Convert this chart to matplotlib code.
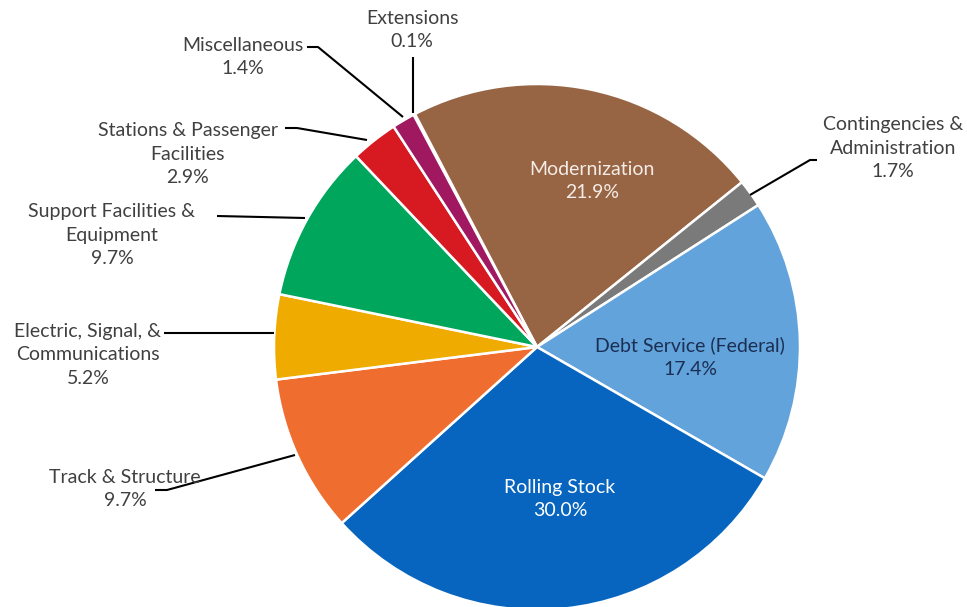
import matplotlib
matplotlib.use("Agg")
import matplotlib.pyplot as plt

categories = ["Extensions", "Modernization", "Contingencies &\nAdministration",
              "Debt Service (Federal)", "Rolling Stock", "Track & Structure",
              "Electric, Signal, &\nCommunications", "Support Facilities &\nEquipment",
              "Stations & Passenger\nFacilities", "Miscellaneous"]
values = [0.1, 21.9, 1.7, 17.4, 30.0, 9.7, 5.2, 9.7, 2.9, 1.4]
colors = ["#c8a0c8", "#976544", "#7a7a7a", "#62a3dc", "#0765c0", "#ef6d2f",
          "#f0ab00", "#00a65c", "#d71a22", "#a01860"]

W, H = 967, 607
fig = plt.figure(figsize=(W / 100, H / 100), dpi=100)
ax = fig.add_axes([0, 0, 1, 1])
ax.set_xlim(0, W)
ax.set_ylim(0, H)
ax.set_aspect("equal")
ax.axis("off")

def Y(y):
    return H - y

cx, cy, r = 537, Y(347), 263
ax.pie(values, colors=colors, startangle=118, counterclock=False,
       center=(cx, cy), radius=r, frame=True,
       wedgeprops=dict(edgecolor="white", linewidth=1.8))
ax.set_xlim(0, W)
ax.set_ylim(0, H)
ax.axis("off")

font = "Lato"
fs = 14
ls = 1.48
tc = "#404040"

def lab(i):
    return f"{categories[i]}\n{values[i]:.1f}%"

# inside labels
ax.text(592, Y(181), lab(1), ha="center", va="center", fontsize=fs, family=font,
        color="#f4ece6", linespacing=ls)
ax.text(690, Y(357), lab(3), ha="center", va="center", fontsize=fs, family=font,
        color="#1b2f52", linespacing=ls)
ax.text(560, Y(499), lab(4), ha="center", va="center", fontsize=fs, family=font,
        color="white", linespacing=ls)

# outside labels: (index, x, y_center)
outside = [(0, 412, 30), (9, 243, 57), (8, 188, 154), (7, 112, 235),
           (6, 88, 355), (5, 125, 489), (2, 893, 148)]
for i, x, y in outside:
    ax.text(x, Y(y), lab(i), ha="center", va="center", fontsize=fs, family=font,
            color=tc, linespacing=ls)

# leader lines (pixel coords)
leaders = [
    [(413, 57), (413, 113)],
    [(307, 47), (318, 47), (403, 117)],
    [(285, 128), (297, 128), (367, 140)],
    [(217, 216), (305, 218)],
    [(164, 333), (274, 333)],
    [(155, 490), (167, 490), (295, 455)],
    [(817, 160), (810, 160), (750, 195)],
]
for pts in leaders:
    xs = [p[0] for p in pts]
    ys = [Y(p[1]) for p in pts]
    ax.plot(xs, ys, color="black", linewidth=1.5, solid_capstyle="butt")

fig.savefig("out.png", dpi=100)
